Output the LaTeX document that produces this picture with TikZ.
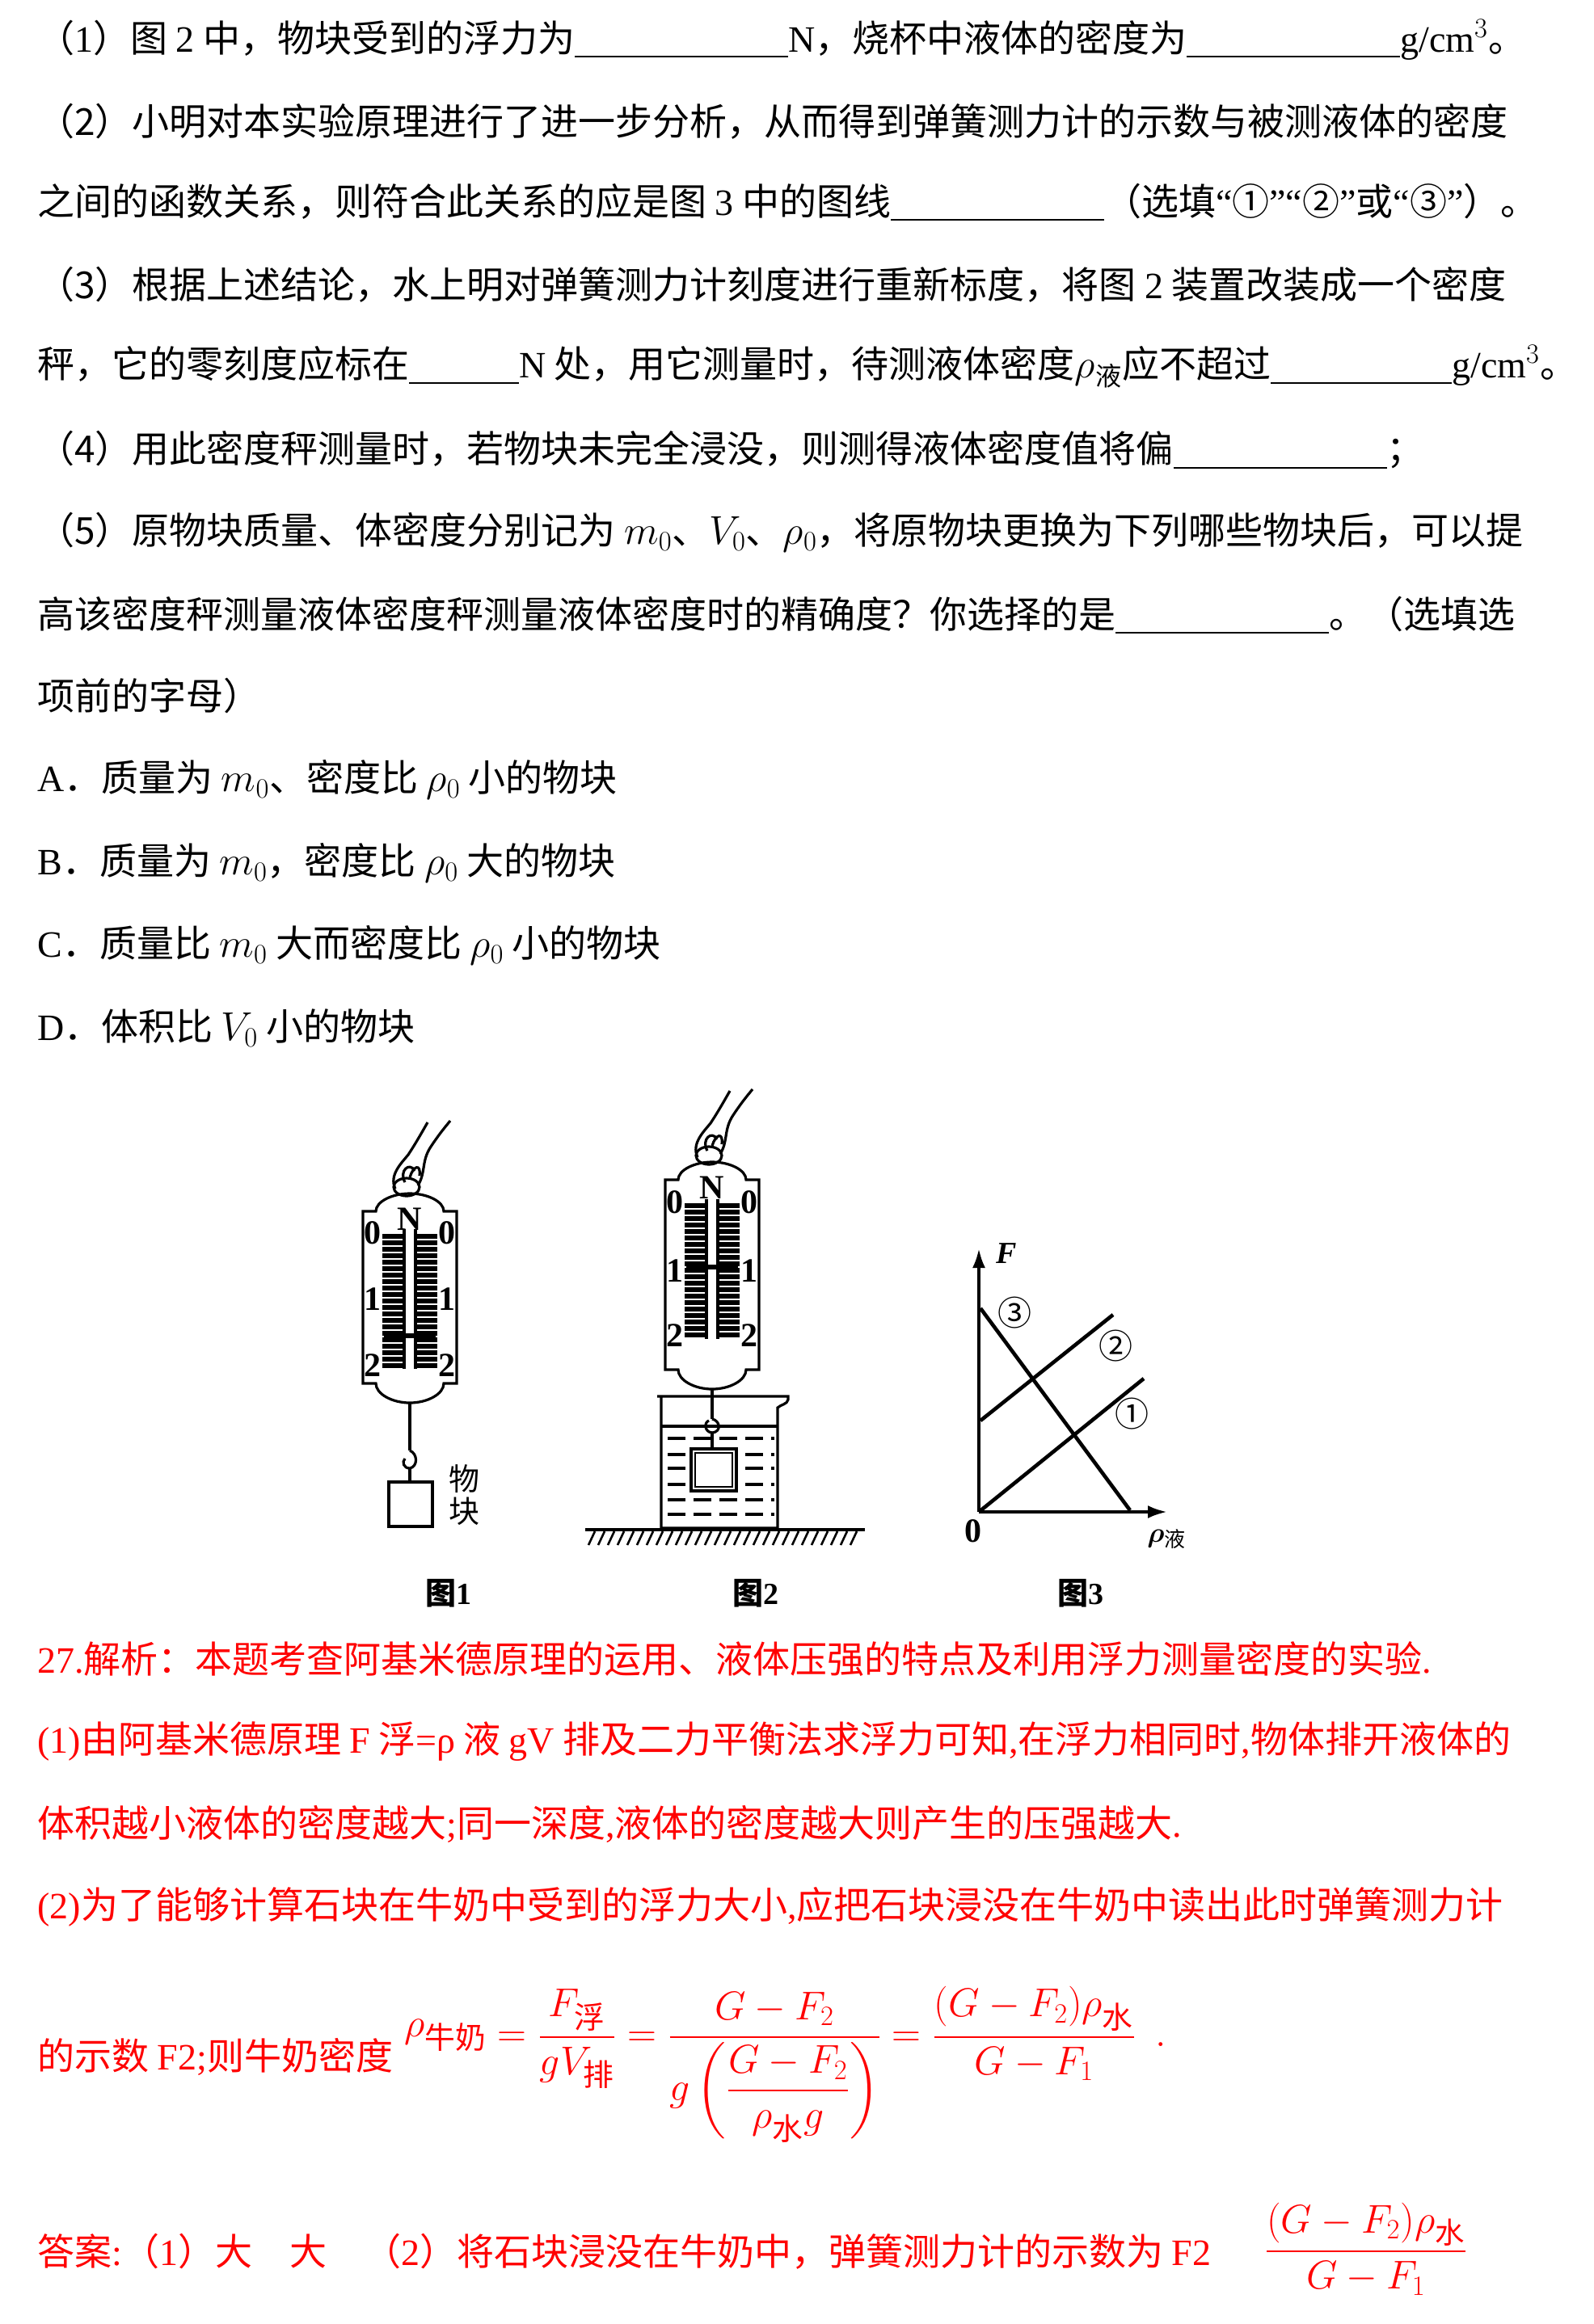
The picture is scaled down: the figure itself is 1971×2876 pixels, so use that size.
\documentclass[tikz,border=0pt]{standalone}
\usepackage{amsmath}
\usepackage{fontspec}
\usetikzlibrary{arrows.meta}
\setmainfont{Noto Sans CJK SC}
\newfontfamily\lt{Liberation Serif}
\newfontfamily\cjk{Noto Sans CJK SC}
\newcommand\blank[1]{\rule[-0.15em]{#1pt}{0.9pt}}
\newcommand\sm[1]{\text{\cjk #1}}
\newcommand\myLq{{\lt “}}
\newcommand\myRq{{\lt ”}}
\begin{document}
\begin{tikzpicture}[x=0.5pt,y=-0.5pt,
  txt/.style={anchor=west,inner sep=0pt,font=\fontsize{23}{27}\selectfont},
  rtxt/.style={txt,text=red},
  thick1/.style={line width=1.6pt},
  tickl/.style={line width=3pt},
  lab/.style={font=\lt\bfseries\fontsize{21}{21}\selectfont,inner sep=0pt},
  figcap/.style={font=\bfseries\fontsize{19}{19}\selectfont,inner sep=0pt}]
\useasboundingbox[fill=white] (0,0) rectangle (1971,2876);

% ---- question text ----
\node[txt] (l1) at (46,49) {（{\lt 1}）图 {\lt 2} 中，物块受到的浮力为\blank{132}{\lt N}，烧杯中液体的密度为\blank{132}{\lt g/cm$^3$}。};
\node[txt] (l2) at (46,150) {（2）小明对本实验原理进行了进一步分析，从而得到弹簧测力计的示数与被测液体的密度};
\node[txt] (l3) at (46,250) {之间的函数关系，则符合此关系的应是图 {\lt 3} 中的图线\blank{132}（选填\myLq①\myRq\myLq②\myRq 或\myLq③\myRq）。};
\node[txt] (l4) at (46,352) {（3）根据上述结论，水上明对弹簧测力计刻度进行重新标度，将图 {\lt 2} 装置改装成一个密度};
\node[txt] (l5) at (46,454) {秤，它的零刻度应标在\blank{68}{\lt N} 处，用它测量时，待测液体密度$\rho_{\sm{液}}$应不超过\blank{112}{\lt g/cm$^3$}。};
\node[txt] (l6) at (46,557) {（4）用此密度秤测量时，若物块未完全浸没，则测得液体密度值将偏\blank{132}；};
\node[txt] (l7) at (46,659) {（5）原物块质量、体密度分别记为 $m_0$、$V_0$、$\rho_0$，将原物块更换为下列哪些物块后，可以提};
\node[txt] (l8) at (46,761) {高该密度秤测量液体密度秤测量液体密度时的精确度？你选择的是\blank{132}。（选填选};
\node[txt] (l9) at (46,861) {项前的字母）};
\node[txt] (l10) at (46,965) {{\lt A}．质量为 $m_0$、密度比 $\rho_0$ 小的物块};
\node[txt] (l11) at (46,1068) {{\lt B}．质量为 $m_0$，密度比 $\rho_0$ 大的物块};
\node[txt] (l12) at (46,1170) {{\lt C}．质量比 $m_0$ 大而密度比 $\rho_0$ 小的物块};
\node[txt] (l13) at (46,1272) {{\lt D}．体积比 $V_0$ 小的物块};

% ---- Figure 1 ----
\begin{scope}[shift={(507,1499)}]
  \draw[thick1] (-58,213) -- (-58,0) -- (-42,0) .. controls (-42,-12) and (-22,-22) .. (0,-22) .. controls (22,-22) and (42,-12) .. (42,0) -- (58,0) -- (58,213) -- (42,213) .. controls (42,226) and (22,237) .. (0,237) .. controls (-22,237) and (-42,226) .. (-42,213) -- cycle;
  \foreach \i in {0,...,20}{
    \pgfmathsetmacro\yy{31+\i*8}
    \draw[tickl] (-34,\yy) -- (-8,\yy);
    \draw[tickl] (8,\yy) -- (34,\yy);}
  \draw[line width=2pt] (-7,22) -- (-7,195);
  \draw[line width=2pt] (7,22) -- (7,195);
  \draw[line width=3pt] (-32,154) -- (32,154);
  \node[lab] (f1n) at (0,10) {N};
  \node[lab] (f1a) at (-46,27) {0}; \node[lab] (f1b) at (46,27) {0};
  \node[lab] (f1c) at (-46,109) {1}; \node[lab] (f1d) at (46,109) {1};
  \node[lab] (f1e) at (-46,191) {2}; \node[lab] (f1f) at (46,191) {2};
  % hand
  \draw[thick1] (-4,-30) ellipse (16 and 11);
  \draw[thick1] (-18,-28) .. controls (-26,-45) and (-10,-60) .. (-2,-70) .. controls (6,-82) and (14,-96) .. (22,-110);
  \draw[thick1] (10,-32) .. controls (20,-48) and (14,-62) .. (26,-80) .. controls (34,-92) and (40,-100) .. (50,-112);
  \draw[thick1] (-6,-36) .. controls (-14,-50) and (0,-62) .. (6,-50);
  \draw[thick1] (0,-42) .. controls (4,-56) and (14,-60) .. (12,-44);
  % rod, hook, block
  \draw[thick1] (0,237) -- (0,296);
  \draw[thick1] (0,296) .. controls (10,300) and (10,316) .. (0,318) .. controls (-8,318) and (-10,310) .. (-6,306);
  \draw[thick1] (0,318) -- (0,335);
\end{scope}
\draw[thick1] (481,1834) rectangle (535,1889);
\node[font=\fontsize{19}{19}\selectfont,inner sep=0pt] (wu) at (574,1830) {物};
\node[font=\fontsize{19}{19}\selectfont,inner sep=0pt] (kuai) at (574,1870) {块};
\node[figcap] (c1) at (555,1972) {图{\lt 1}};

% ---- Figure 2 ----
\begin{scope}[shift={(881,1460)}]
  \draw[thick1] (-58,235) -- (-58,0) -- (-42,0) .. controls (-42,-12) and (-22,-22) .. (0,-22) .. controls (22,-22) and (42,-12) .. (42,0) -- (58,0) -- (58,235) -- (42,235) .. controls (42,248) and (22,259) .. (0,259) .. controls (-22,259) and (-42,248) .. (-42,235) -- cycle;
  \foreach \i in {0,...,20}{
    \pgfmathsetmacro\yy{32+\i*8}
    \draw[tickl] (-34,\yy) -- (-8,\yy);
    \draw[tickl] (8,\yy) -- (34,\yy);}
  \draw[line width=2pt] (-7,24) -- (-7,197);
  \draw[line width=2pt] (7,24) -- (7,197);
  \draw[line width=3pt] (-32,108) -- (32,108);
  \node[lab] (f2n) at (0,10) {N};
  \node[lab] (f2a) at (-46,28) {0}; \node[lab] (f2b) at (46,28) {0};
  \node[lab] (f2c) at (-46,113) {1}; \node[lab] (f2d) at (46,113) {1};
  \node[lab] (f2e) at (-46,193) {2}; \node[lab] (f2f) at (46,193) {2};
  \draw[thick1] (-4,-30) ellipse (16 and 11);
  \draw[thick1] (-18,-28) .. controls (-26,-45) and (-10,-60) .. (-2,-70) .. controls (6,-82) and (14,-96) .. (22,-110);
  \draw[thick1] (10,-32) .. controls (20,-48) and (14,-62) .. (26,-80) .. controls (34,-92) and (40,-100) .. (50,-112);
  \draw[thick1] (-6,-36) .. controls (-14,-50) and (0,-62) .. (6,-50);
  \draw[thick1] (0,-42) .. controls (4,-56) and (14,-60) .. (12,-44);
  \draw[thick1] (0,259) -- (0,296);
  \draw[thick1] (0,296) .. controls (10,298) and (12,312) .. (0,313) .. controls (-10,312) and (-10,300) .. (-4,298);
  \draw[thick1] (0,313) -- (0,333);
\end{scope}
% beaker
\draw[thick1] (818,1728) -- (818,1891) -- (962,1891) -- (962,1742) .. controls (966,1738) and (974,1738) .. (975,1732) -- (975,1728) -- (813,1728);
\draw[thick1] (818,1765) -- (962,1765);
\foreach \yy in {1780,1800,1817,1837,1856,1874}{
  \draw[line width=2pt, dash pattern=on 11pt off 5pt] (826,\yy) -- (958,\yy);}
\draw[thick1,fill=white] (855,1793) rectangle (911,1845);
\draw[line width=1pt,fill=white] (860,1798) rectangle (906,1840);
\draw[thick1] (855,1793) rectangle (911,1845);
% ground
\draw[thick1] (724,1893) -- (1070,1893);
\foreach \xx in {736,748,...,1068}{
  \draw[line width=1.3pt] (\xx,1895) -- (\xx-8,1912);}
\node[figcap] (c2) at (935,1972) {图{\lt 2}};

% ---- Figure 3 ----
\coordinate (O) at (1211,1871);
\coordinate (Ytop) at (1211,1545);
\coordinate (Xend) at (1444,1871);
\draw[line width=2pt,-{Latex[length=12pt,width=8pt]}] (O) -- (Ytop);
\draw[line width=2pt,-{Latex[length=12pt,width=8pt]}] (O) -- (Xend);
\coordinate (a3) at (1213,1619); \coordinate (b3) at (1398,1869);
\coordinate (a2) at (1213,1758); \coordinate (b2) at (1377,1627);
\coordinate (a1) at (1211,1871); \coordinate (b1) at (1415,1706);
\draw[line width=2.3pt] (a3) -- (b3);
\draw[line width=2.3pt] (a2) -- (b2);
\draw[line width=2.3pt] (a1) -- (b1);
\node[font=\lt\bfseries\itshape\fontsize{19}{19}\selectfont,inner sep=0pt] (F) at (1245,1551) {F};
\node[lab] (zero) at (1204,1895) {0};
\node[inner sep=0pt] (rho) at (1443,1905) {\fontsize{19}{19}\selectfont$\boldsymbol{\rho}$\raisebox{-3pt}{\fontsize{13}{13}\selectfont 液}};
\node[inner sep=0pt,font=\fontsize{21}{21}\selectfont] (n3) at (1255,1625) {③};
\node[inner sep=0pt,font=\fontsize{21}{21}\selectfont] (n2) at (1380,1666) {②};
\node[inner sep=0pt,font=\fontsize{21}{21}\selectfont] (n1) at (1400,1750) {①};
\node[figcap] (c3) at (1337,1972) {图{\lt 3}};

% ---- red analysis ----
\node[rtxt] (r1) at (46,2053) {{\lt 27.}解析：本题考查阿基米德原理的运用、液体压强的特点及利用浮力测量密度的实验{\lt .}};
\node[rtxt] (r2) at (46,2155) {{\lt (1)}由阿基米德原理 {\lt F} 浮{\lt =ρ} 液 {\lt gV} 排及二力平衡法求浮力可知{\lt ,}在浮力相同时{\lt ,}物体排开液体的};
\node[rtxt] (r3) at (46,2257) {体积越小液体的密度越大{\lt ;}同一深度{\lt ,}液体的密度越大则产生的压强越大{\lt .}};
\node[rtxt] (r4) at (46,2360) {{\lt (2)}为了能够计算石块在牛奶中受到的浮力大小{\lt ,}应把石块浸没在牛奶中读出此时弹簧测力计};
\node[rtxt] (r5) at (46,2545) {的示数 {\lt F2;}则牛奶密度};
\node[anchor=west,inner sep=0pt,text=red,font=\fontsize{27}{31}\selectfont] (eq) at (500,2555)
 {$\raisebox{6pt}{$\rho_{\sm{牛奶}}$}=\dfrac{F_{\sm{浮}}}{gV_{\sm{排}}}=\dfrac{G-F_2}{g\left(\dfrac{G-F_2}{\rho_{\sm{水}}g}\right)}=\dfrac{(G-F_2)\rho_{\sm{水}}}{G-F_1}\ \ .$};
\node[rtxt] (r6) at (46,2786) {答案{\lt :}（{\lt 1}）大　大　（{\lt 2}）将石块浸没在牛奶中，弹簧测力计的示数为 {\lt F2}};
\node[anchor=center,inner sep=0pt,text=red,font=\fontsize{26}{30}\selectfont] (ans) at (1690,2783) {$\dfrac{(G-F_2)\rho_{\sm{水}}}{G-F_1}$};
\end{tikzpicture}
\end{document}
